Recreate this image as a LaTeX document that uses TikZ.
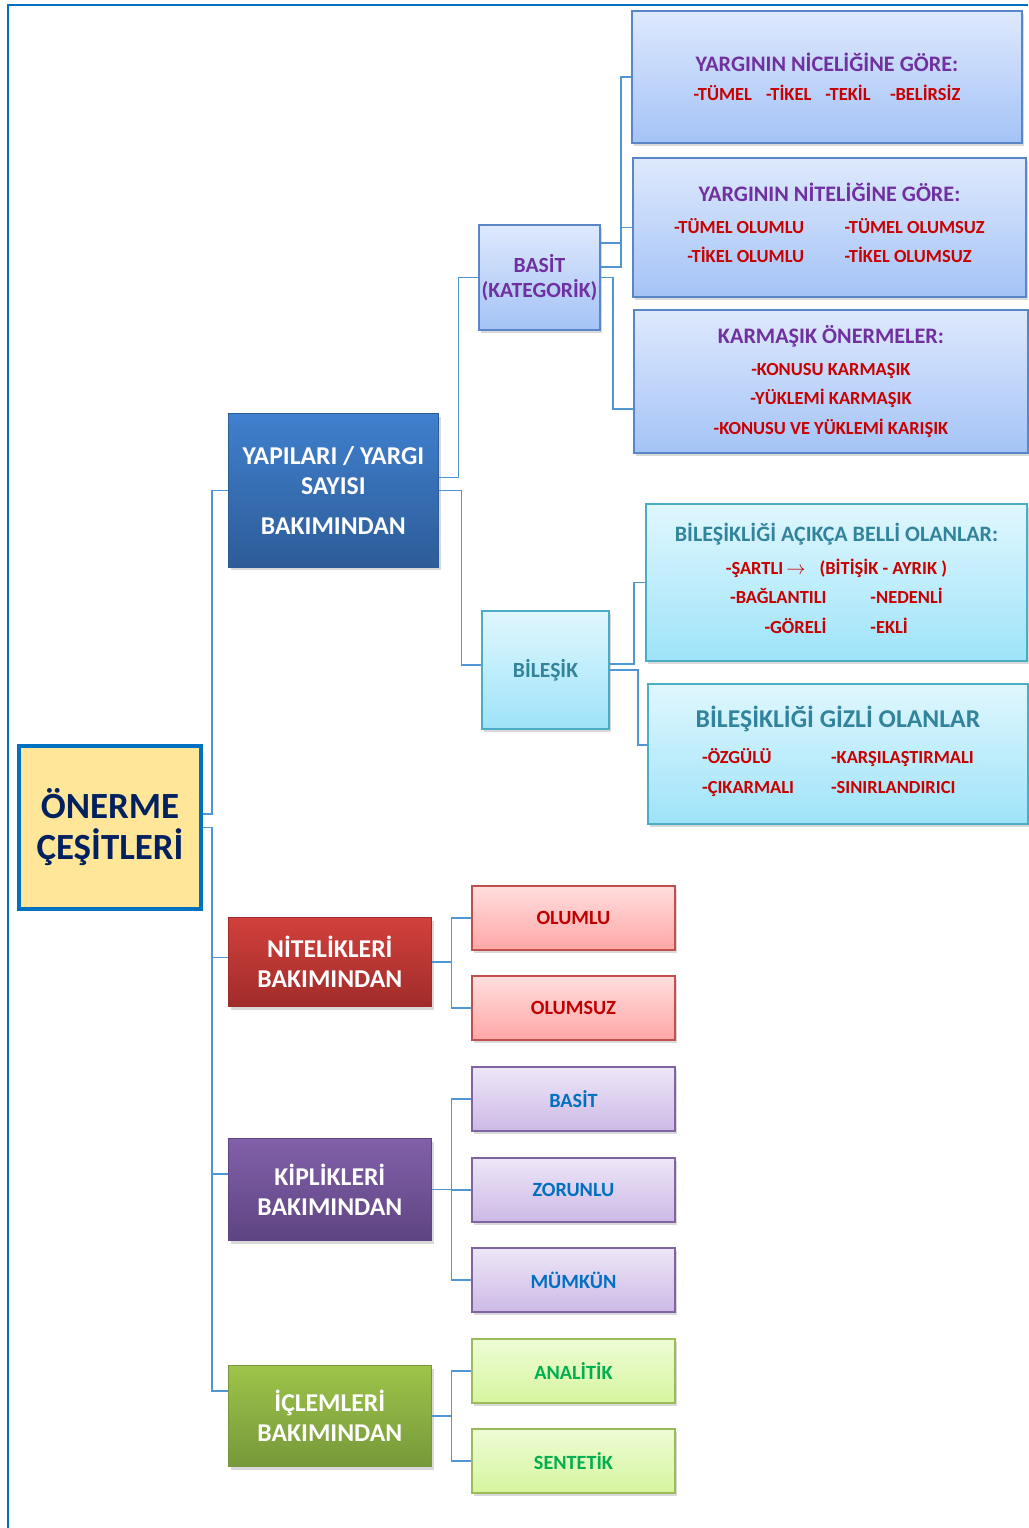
\documentclass[tikz,border=0pt]{standalone}
\usepackage{fontspec}
\setmainfont{Carlito}
\usetikzlibrary{shadows}

\definecolor{frameblue}{RGB}{0,112,192}
\definecolor{linkblue}{RGB}{80,150,212}
\definecolor{rootfill}{RGB}{255,230,153}
\definecolor{rootink}{RGB}{0,32,96}
\definecolor{titlepurple}{RGB}{112,48,160}
\definecolor{titleteal}{RGB}{49,132,155}
\definecolor{itemred}{RGB}{200,0,0}
\definecolor{infotop}{RGB}{222,233,253}
\definecolor{infobot}{RGB}{164,195,246}
\definecolor{infoline}{RGB}{88,134,198}
\definecolor{cyantop}{RGB}{224,247,254}
\definecolor{cyanbot}{RGB}{158,227,249}
\definecolor{cyanline}{RGB}{75,172,198}
\definecolor{yaptop}{RGB}{64,128,206}
\definecolor{yapbot}{RGB}{45,92,152}
\definecolor{nittop}{RGB}{210,64,60}
\definecolor{nitbot}{RGB}{160,44,42}
\definecolor{kiptop}{RGB}{130,96,170}
\definecolor{kipbot}{RGB}{94,68,130}
\definecolor{icltop}{RGB}{158,196,74}
\definecolor{iclbot}{RGB}{118,152,58}
\definecolor{pinktop}{RGB}{255,222,222}
\definecolor{pinkbot}{RGB}{255,166,166}
\definecolor{pinkline}{RGB}{192,80,77}
\definecolor{lilactop}{RGB}{238,230,247}
\definecolor{lilacbot}{RGB}{204,186,230}
\definecolor{lilacline}{RGB}{128,100,162}
\definecolor{limetop}{RGB}{238,252,214}
\definecolor{limebot}{RGB}{214,245,158}
\definecolor{limeline}{RGB}{155,187,89}
\definecolor{leafblue}{RGB}{0,112,192}
\definecolor{leafgreen}{RGB}{0,176,80}
\definecolor{leafred}{RGB}{192,0,0}

\newcommand{\rootsize}{\fontsize{21}{23.3}\selectfont}
\newcommand{\mainsize}{\fontsize{14.6}{17}\selectfont}
\newcommand{\subsize}{\fontsize{12.3}{14.2}\selectfont}
\newcommand{\itemsize}{\fontsize{10.5}{16.8}\selectfont}
\newcommand{\leafsize}{\fontsize{11.5}{14}\selectfont}
\newcommand{\headline}[3][12.6]{{\color{#2}\fontsize{#1}{#1}\selectfont #3}}
\newcommand{\itemcols}[2]{\begin{tabular}[t]{@{}#1@{}}#2\end{tabular}}

\tikzset{
  boxDecorate/.style={anchor=north west, align=center, font=\bfseries,
    drop shadow={shadow xshift=1.4pt, shadow yshift=-1.8pt, opacity=.3}},
  rootDecorate/.style={anchor=north west, align=center, draw=frameblue,
    line width=2.3pt, fill=rootfill, text=rootink, font=\bfseries\rootsize,
    minimum width=3.64cm, minimum height=3.26cm},
  mainDecorate/.style 2 args={boxDecorate, draw=#2, line width=.4pt,
    top color=#1, bottom color=#2, text=white, font=\bfseries\mainsize,
    minimum width=4.06cm, inner sep=2pt},
  blueInfo/.style={boxDecorate, draw=infoline, line width=1.1pt,
    top color=infotop, bottom color=infobot, text=itemred, font=\bfseries\itemsize},
  cyanInfo/.style={boxDecorate, draw=cyanline, line width=1.1pt,
    top color=cyantop, bottom color=cyanbot, text=itemred, font=\bfseries\itemsize},
  leafDecorate/.style={boxDecorate, line width=1.1pt, font=\bfseries\leafsize,
    minimum width=4.06cm, minimum height=1.28cm},
  redLeaf/.style={leafDecorate, draw=pinkline, top color=pinktop, bottom color=pinkbot, text=leafred},
  lilacLeaf/.style={leafDecorate, draw=lilacline, top color=lilactop, bottom color=lilacbot, text=leafblue},
  limeLeaf/.style={leafDecorate, draw=limeline, top color=limetop, bottom color=limebot, text=leafgreen},
  lineDecorate/.style={draw=linkblue, line width=.8pt},
  elbow/.style={to path={-- ++(#1,0) |- (\tikztotarget)}}
}

\begin{document}
\begin{tikzpicture}[x=0.02cm, y=-0.02cm]
\useasboundingbox (0,0) rectangle (1028,1528);
%% frame
\draw[frameblue, line width=1.2pt] (1028,5) -| (8,1528);

%% root and main branches
\node[rootDecorate] (root) at (17,744) {ÖNERME\\ÇEŞİTLERİ};
\node[mainDecorate={yaptop}{yapbot}, minimum height=3.08cm, minimum width=4.2cm]
  (yapi) at (228,413) {YAPILARI / YARGI\\SAYISI\\[6pt]BAKIMINDAN};
\node[mainDecorate={nittop}{nitbot}, minimum height=1.78cm] (nitelik) at (228,917) {NİTELİKLERİ\\BAKIMINDAN};
\node[mainDecorate={kiptop}{kipbot}, minimum height=2.04cm] (kiplik) at (228,1138) {KİPLİKLERİ\\BAKIMINDAN};
\node[mainDecorate={icltop}{iclbot}, minimum height=2.02cm] (iclem) at (228,1365) {İÇLEMLERİ\\BAKIMINDAN};

%% structure branch
\node[blueInfo, text=titlepurple, font=\bfseries\subsize, inner sep=1pt,
  minimum width=2.42cm, minimum height=2.1cm] (kategorik) at (478,224) {BASİT\\(KATEGORİK)};
\node[cyanInfo, text=titleteal, font=\bfseries\subsize,
  minimum width=2.54cm, minimum height=2.36cm] (bilesik) at (481,610) {BİLEŞİK};

\node[blueInfo, minimum width=7.8cm, minimum height=2.64cm] (nicelige) at (631,10)
  {\headline{titlepurple}{YARGININ NİCELİĞİNE GÖRE:}\\
   -TÜMEL\hspace{8pt}-TİKEL\hspace{8pt}-TEKİL\hspace{11pt}-BELİRSİZ};
\node[blueInfo, minimum width=7.86cm, minimum height=2.78cm] (nitelige) at (632,157)
  {\headline{titlepurple}{YARGININ NİTELİĞİNE GÖRE:}\\[1pt]
   \itemcols{r@{\hspace{23pt}}l}{-TÜMEL OLUMLU & -TÜMEL OLUMSUZ\\ -TİKEL OLUMLU & -TİKEL OLUMSUZ}};
\node[blueInfo, minimum width=7.88cm, minimum height=2.86cm] (karmasik) at (633,309)
  {\headline{titlepurple}{KARMAŞIK ÖNERMELER:}\\[1pt]
   -KONUSU KARMAŞIK\\ -YÜKLEMİ KARMAŞIK\\ -KONUSU VE YÜKLEMİ KARIŞIK};
\node[cyanInfo, minimum width=7.62cm, minimum height=3.14cm] (acikca) at (645,503)
  {\headline[12.5]{titleteal}{BİLEŞİKLİĞİ AÇIKÇA BELLİ OLANLAR:}\\[2pt]
   -ŞARTLI\,$\rightarrow$\hspace{8pt}(BİTİŞİK - AYRIK )\\
   \itemcols{r@{\hspace{25pt}}l}{-BAĞLANTILI & -NEDENLİ\\ -GÖRELİ & -EKLİ}};
\node[cyanInfo, minimum width=7.6cm, minimum height=2.8cm] (gizli) at (647,683)
  {\headline[14.6]{titleteal}{BİLEŞİKLİĞİ GİZLİ OLANLAR}\\[4pt]
   \itemcols{l@{\hspace{21pt}}l}{-ÖZGÜLÜ & -KARŞILAŞTIRMALI\\ -ÇIKARMALI & -SINIRLANDIRICI}};

%% leaves
\foreach \leafname/\y/\leaftext in {olumlu/885/OLUMLU, olumsuz/975/OLUMSUZ}
{
  \node[redLeaf] (\leafname) at (471,\y) {\leaftext};
}
\foreach \leafname/\y/\leaftext in {basitkip/1066/BASİT, zorunlu/1157/ZORUNLU, mumkun/1247/MÜMKÜN}
{
  \node[lilacLeaf] (\leafname) at (471,\y) {\leaftext};
}
\foreach \leafname/\y/\leaftext in {analitik/1338/ANALİTİK, sentetik/1428/SENTETİK}
{
  \node[limeLeaf] (\leafname) at (471,\y) {\leaftext};
}

%% connectors
\path
\foreach \src/\dy/\dx/\dst/\ty in {root/7.7pt/9/yapi/0pt, root/0pt/9/nitelik/2.6pt,
  root/0pt/9/kiplik/8.8pt, root/0pt/9/iclem/14.2pt,
  yapi/7.4pt/20/kategorik/0pt, yapi/0pt/23/bilesik/2.8pt,
  kategorik/19.6pt/20/nicelige/0pt, kategorik/6pt/20/nitelige/0pt, kategorik/0pt/12/karmasik/-15.6pt,
  bilesik/3.4pt/24/acikca/0pt, bilesik/0pt/28/gizli/5.1pt,
  nitelik/0pt/20/olumlu/0pt, nitelik/0pt/20/olumsuz/0pt,
  kiplik/0pt/20/basitkip/0pt, kiplik/0pt/20/zorunlu/0pt, kiplik/0pt/20/mumkun/0pt,
  iclem/0pt/20/analitik/0pt, iclem/0pt/20/sentetik/0pt}
{
  ([yshift=\dy]\src.east) edge[lineDecorate, elbow=\dx] ([yshift=\ty]\dst.west)
};
\end{tikzpicture}
\end{document}
